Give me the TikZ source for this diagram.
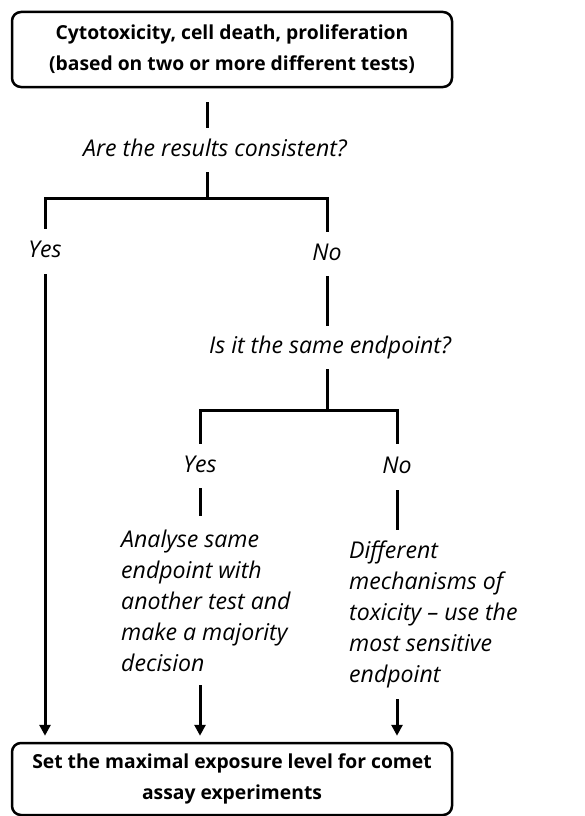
\documentclass[tikz,border=0pt]{standalone}
\usepackage{fontspec}
\setmainfont{Open Sans}
\usetikzlibrary{arrows.meta}
\begin{document}
\begin{tikzpicture}[x=1pt,y=-1pt,
  ln/.style={line width=3pt},
  arr/.style={line width=3pt,-{Triangle[width=11pt,length=11pt]},shorten >=6pt},
  box/.style={draw,line width=2.5pt,rounded corners=9pt,minimum width=440pt,align=center,
    font=\fontsize{19.3}{31}\selectfont\bfseries,inner sep=0pt},
  lbl/.style={minimum height=#1,inner sep=0pt,font=\fontsize{23.1}{31}\selectfont\itshape,
    text height=16pt,text depth=4pt},
  para/.style={minimum height=#1,inner sep=0pt,align=left,font=\fontsize{23.1}{31}\selectfont\itshape}
]
\useasboundingbox (0,0) rectangle (584,816);
\node[box,minimum height=75pt] (top) at (232,49.5) {Cytotoxicity, cell death, proliferation\\(based on two or more different tests)};
\node[box,minimum height=72pt] (bot) at (232,779) {Set the maximal exposure level for comet\\assay experiments};
\coordinate (j1) at (207,198);
\coordinate (j2) at (327,410);
\node[lbl=44pt] (q1) at (215,150) {Are the results consistent?};
\node[lbl=45pt] (yes1) at (45,251.5) {Yes};
\node[lbl=44pt] (no1) at (327,254) {No};
\node[lbl=43pt] (q2) at (330,347.5) {Is it the same endpoint?};
\node[lbl=44pt] (yes2) at (200,466) {Yes};
\node[lbl=46pt] (no2) at (397,467) {No};
\node[para=169pt,anchor=west] (a1) at (121,600.5) {Analyse same\\endpoint with\\another test and\\make a majority\\decision};
\node[para=169pt,anchor=west] (a2) at (349,614.5) {Different\\mechanisms of\\toxicity -- use the\\most sensitive\\endpoint};
\draw[ln,shorten <=14pt] (top.south -| j1) -- (q1.north -| j1);
\draw[ln] (q1.south -| j1) -- (j1);
\draw[ln] (yes1.north) |- (j1) -| (no1.north);
\draw[ln] (no1.south) -- (q2.north -| no1);
\draw[ln] (q2.south -| j2) -- (j2);
\draw[ln] (yes2.north) |- (j2) -| (no2.north);
\draw[ln] (yes2.south) -- (yes2.south |- a1.north);
\draw[ln] (no2.south) -- (no2.south |- a2.north);
\draw[arr] (yes1.south) -- (yes1.south |- bot.north);
\draw[arr] (yes2.south |- a1.south) -- (yes2.south |- bot.north);
\draw[arr] (no2.south |- a2.south) -- (no2.south |- bot.north);
\end{tikzpicture}
\end{document}
